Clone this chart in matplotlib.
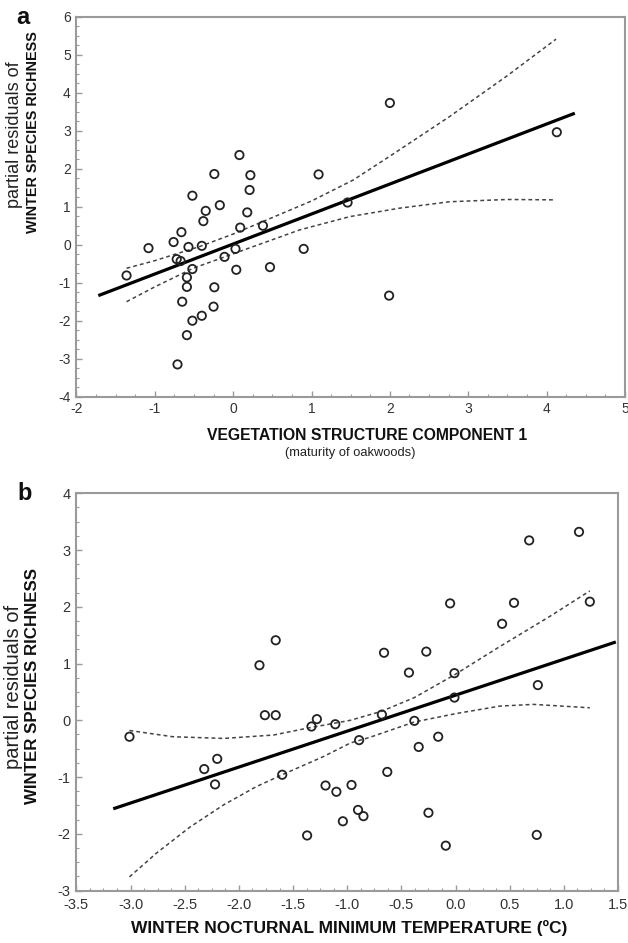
import matplotlib
matplotlib.use("Agg")
import matplotlib.pyplot as plt
from matplotlib.ticker import MultipleLocator, FormatStrFormatter

plt.rcParams['font.family'] = ['Liberation Sans', 'DejaVu Sans']
plt.rcParams['axes.unicode_minus'] = False

# ---------------- Panel a data ----------------
a_x = [2.00, 0.08, -0.24, 0.22, 1.09, 0.21, -0.52, -0.35, -0.17, -0.38,
       0.18, 1.46, -0.66, 0.09, 0.38, -0.76, -1.08, -0.57, -0.40, 0.03,
       0.90, -0.72, -0.67, -0.11, -0.52, 0.04, 0.47, -1.36, -0.59, -0.59,
       -0.24, -0.65, -0.25, 1.99, -0.40, -0.52, -0.59, -0.71, 4.13]
a_y = [3.73, 2.36, 1.86, 1.83, 1.85, 1.44, 1.29, 0.89, 1.04, 0.62,
       0.85, 1.11, 0.33, 0.45, 0.50, 0.07, -0.09, -0.06, -0.03, -0.11,
       -0.11, -0.38, -0.43, -0.32, -0.64, -0.66, -0.59, -0.81, -0.86, -1.11,
       -1.12, -1.50, -1.63, -1.34, -1.87, -2.00, -2.38, -3.15, 2.96]
a_fit_x = [-1.72, 4.36]
a_fit_y = [-1.34, 3.46]
a_up_x = [-1.36, -1.0, -0.43, 0.0, 0.38, 1.0, 1.53, 2.0, 2.76, 3.5, 4.12]
a_up_y = [-0.62, -0.42, -0.05, 0.28, 0.61, 1.15, 1.70, 2.33, 3.37, 4.45, 5.41]
a_lo_x = [-1.36, -1.0, -0.51, 0.08, 0.85, 1.49, 2.12, 2.76, 3.5, 4.10]
a_lo_y = [-1.50, -1.11, -0.62, -0.18, 0.39, 0.74, 0.96, 1.13, 1.19, 1.18]

# ---------------- Panel b data ----------------
b_x = [-1.66, -1.81, -1.76, -1.66, -1.28, -1.33, -1.11, -3.01, -2.32, -2.20,
       -2.22, -1.60, -1.37, -1.20, -1.10, -0.96, -1.04, -0.90, -0.85, -0.89,
       1.14, 0.68, -0.05, 0.54, 1.24, 0.43, -0.66, -0.27, -0.43, -0.01,
       0.76, -0.01, -0.68, -0.38, -0.16, -0.34, -0.63, -0.25, -0.09, 0.75]
b_y = [1.41, 0.97, 0.09, 0.09, 0.02, -0.11, -0.07, -0.29, -0.86, -0.68,
       -1.13, -0.96, -2.03, -1.15, -1.26, -1.14, -1.78, -1.58, -1.69, -0.35,
       3.32, 3.17, 2.06, 2.07, 2.09, 1.70, 1.19, 1.21, 0.84, 0.83,
       0.62, 0.40, 0.10, -0.01, -0.29, -0.47, -0.91, -1.63, -2.21, -2.02]
b_fit_x = [-3.16, 1.48]
b_fit_y = [-1.56, 1.38]
b_up_x = [-3.01, -2.61, -2.14, -1.68, -1.37, -0.97, -0.68, -0.38, -0.01, 0.41, 0.87, 1.24]
b_up_y = [-0.18, -0.29, -0.32, -0.26, -0.14, 0.0, 0.16, 0.40, 0.80, 1.30, 1.83, 2.28]
b_lo_x = [-3.01, -2.76, -2.45, -2.14, -1.84, -1.60, -1.22, -0.97, -0.79, -0.38, 0.01, 0.41, 0.72, 1.24]
b_lo_y = [-2.76, -2.34, -1.88, -1.49, -1.17, -0.96, -0.64, -0.40, -0.30, -0.03, 0.12, 0.25, 0.28, 0.22]

W, H = 628, 943
fig = plt.figure(figsize=(W / 100, H / 100), dpi=100)

def px_axes(l, t, r, b):
    return fig.add_axes([l / W, 1 - b / H, (r - l) / W, (b - t) / H])

ax_a = px_axes(76.4, 16.7, 625, 396.7)
ax_b = px_axes(76.4, 493.3, 618, 890.5)

frame_col = '#9a9a9a'
tick_col = '#333333'

def style(ax, size, xpad=4, ypad=4):
    for s in ax.spines.values():
        s.set_color(frame_col)
        s.set_linewidth(1.5)
    ax.tick_params(which='both', direction='in', color=frame_col, top=False, right=False)
    ax.tick_params(which='major', length=4, width=1, labelsize=size, labelcolor=tick_col)
    ax.tick_params(axis='x', which='major', pad=xpad)
    ax.tick_params(axis='y', which='major', pad=ypad)
    ax.tick_params(which='minor', length=2, width=0.8)

def draw(ax, x, y, fx, fy, ux, uy, lx, ly):
    ax.plot(ux, uy, color='#444444', lw=1.1, ls=(0, (2.5, 2)))
    ax.plot(lx, ly, color='#444444', lw=1.1, ls=(0, (2.5, 2)))
    ax.plot(fx, fy, color='black', lw=2.3, solid_capstyle='butt')
    ax.scatter(x, y, s=36, facecolors='none', edgecolors='#222222', linewidths=1.3, zorder=3)

draw(ax_a, a_x, a_y, a_fit_x, a_fit_y, a_up_x, a_up_y, a_lo_x, a_lo_y)
ax_a.set_xlim(-2, 5)
ax_a.set_ylim(-4, 6)
ax_a.xaxis.set_major_locator(MultipleLocator(1))
ax_a.xaxis.set_minor_locator(MultipleLocator(0.25))
ax_a.yaxis.set_major_locator(MultipleLocator(1))
ax_a.yaxis.set_minor_locator(MultipleLocator(0.25))
style(ax_a, 10)

draw(ax_b, b_x, b_y, b_fit_x, b_fit_y, b_up_x, b_up_y, b_lo_x, b_lo_y)
ax_b.set_xlim(-3.5, 1.5)
ax_b.set_ylim(-3, 4)
ax_b.xaxis.set_major_locator(MultipleLocator(0.5))
ax_b.xaxis.set_minor_locator(MultipleLocator(0.125))
ax_b.xaxis.set_major_formatter(FormatStrFormatter('%.1f'))
ax_b.yaxis.set_major_locator(MultipleLocator(1))
ax_b.yaxis.set_minor_locator(MultipleLocator(0.25))
style(ax_b, 10.5, xpad=5.5, ypad=4)

def ftext(xp, yp, s, **kw):
    fig.text(xp / W, 1 - yp / H, s, **kw)

# panel letters
ftext(23, 17, 'a', fontsize=17, fontweight='bold', ha='center', va='center', color='#111111')
ftext(25, 493, 'b', fontsize=17, fontweight='bold', ha='center', va='center', color='#111111')

# y labels
ftext(15, 135, 'partial residuals of', fontsize=13, rotation=90, ha='center', va='center', color='#222222')
ftext(33, 132, 'WINTER SPECIES RICHNESS', fontsize=10.4, fontweight='bold', rotation=90, ha='center', va='center', color='#111111')
ftext(14, 687, 'partial residuals of', fontsize=14.5, rotation=90, ha='center', va='center', color='#222222')
ftext(33, 686, 'WINTER SPECIES RICHNESS', fontsize=12.2, fontweight='bold', rotation=90, ha='center', va='center', color='#111111')

# x labels
ftext(367, 436, 'VEGETATION STRUCTURE COMPONENT 1', fontsize=11.3, fontweight='bold', ha='center', va='center', color='#111111')
ftext(350, 453, '(maturity of oakwoods)', fontsize=9.3, ha='center', va='center', color='#222222')
ftext(349, 928, 'WINTER NOCTURNAL MINIMUM TEMPERATURE (ºC)', fontsize=12.5, fontweight='bold', ha='center', va='center', color='#111111')

fig.savefig('out.png', dpi=100)
